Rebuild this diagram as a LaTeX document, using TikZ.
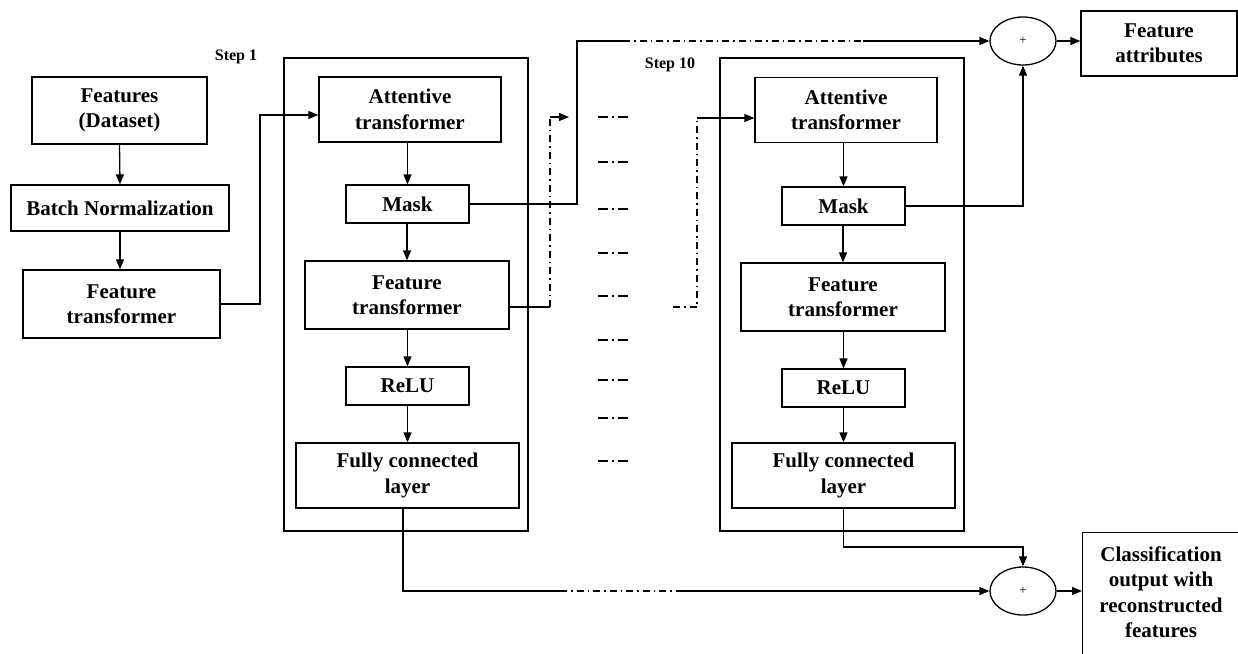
\documentclass[tikz,border=0pt]{standalone}
\usepackage{fontspec}
\setmainfont{Liberation Serif}
\usetikzlibrary{arrows.meta,shapes.geometric,calc}
\begin{document}
\begin{tikzpicture}[x=1pt,y=-1pt,
  box/.style={draw, line width=1.3pt, align=center, font=\fontsize{21}{25.5}\selectfont\bfseries, inner sep=0pt},
  boxtext/.style={align=center, font=\fontsize{21}{25.5}\selectfont\bfseries, inner sep=0pt},
  frame/.style={draw, line width=1.3pt, inner sep=0pt},
  conn/.style={line width=1.3pt},
  arr/.style={conn, -{Triangle[length=10pt,width=8pt]}},
  dd/.style={conn, dash pattern=on 7pt off 4pt on 1.5pt off 4pt},
  ddshort/.style={conn, dash pattern=on 10pt off 4pt on 2pt off 4pt},
  sum/.style={draw, ellipse, line width=1.3pt, minimum width=66pt, minimum height=48pt, inner sep=0pt, font=\fontsize{13}{15}\selectfont},
  steplbl/.style={font=\fontsize{16}{19}\selectfont\bfseries, inner sep=0pt}
]
\useasboundingbox (0,0) rectangle (1238,653);
\clip (0,0) rectangle (1238,653);

% left input chain
\node[box, minimum width=175pt, minimum height=67pt] (fd) at (119.5,110.5) {Features\\(Dataset)};
\node[box, minimum width=218pt, minimum height=46pt] (bn) at (120,208) {Batch Normalization};
\node[box, minimum width=197pt, minimum height=68pt] (ft0) at (121.5,304) {Feature\\transformer};

% step frames
\node[frame, minimum width=244pt, minimum height=473pt] (s1) at (406,294.5) {};
\node[frame, minimum width=244pt, minimum height=473pt] (s2) at (842,294.5) {};
\node[steplbl] (st1) at (236,57) {Step 1};
\node[steplbl] (st10) at (670,65) {Step 10};

% column 1
\node[box, minimum width=182pt, minimum height=65pt] (at1) at (410,109.5) {Attentive\\transformer};
\node[box, minimum width=123pt, minimum height=38pt] (mask1) at (407.5,204) {Mask};
\node[box, minimum width=204pt, minimum height=68pt] (ftr1) at (407,295) {Feature\\transformer};
\node[box, minimum width=123pt, minimum height=38pt] (relu1) at (407.5,386) {ReLU};
\node[box, minimum width=223pt, minimum height=65pt] (fc1) at (407.5,475.5) {Fully connected\\layer};

% column 2
\node[box, minimum width=182pt, minimum height=65pt] (at2) at (846,110) {Attentive\\transformer};
\node[box, minimum width=123pt, minimum height=38pt] (mask2) at (843.5,206) {Mask};
\node[box, minimum width=204pt, minimum height=68pt] (ftr2) at (843,297) {Feature\\transformer};
\node[box, minimum width=123pt, minimum height=38pt] (relu2) at (843.5,388) {ReLU};
\node[box, minimum width=223pt, minimum height=65pt] (fc2) at (843.5,475.5) {Fully connected\\layer};

% sums and outputs
\node[sum] (plus1) at (1023,41) {+};
\node[sum] (plus2) at (1023,591) {+};
\node[box, minimum width=156pt, minimum height=65pt] (fa) at (1159,43.5) {Feature\\attributes};
\node[frame, minimum width=175pt, minimum height=140pt, anchor=north west] (cls) at (1082,532) {};
\node[boxtext] (clst) at (1161,592) {Classification\\output with\\reconstructed\\features};

% input chain arrows
\draw[arr] (fd.south) -- (bn.north);
\draw[arr] (bn.south) -- (ft0.north -| bn.south);
\coordinate (j1) at (260,115);
\draw[arr] (ft0.east) -| (j1) -- (j1 -| at1.west);

% column arrows
\foreach \a/\b in {at1/mask1,mask1/ftr1,ftr1/relu1,relu1/fc1,at2/mask2,mask2/ftr2,ftr2/relu2,relu2/fc2}
  \draw[arr] (\a.south -| \b.north) -- (\b.north);

% mask1 to top sum
\coordinate (t1) at (577,41);
\coordinate (t2) at (623,41);
\coordinate (t3) at (863,41);
\draw[conn] (mask1.east) -| (t1) -- (t2);
\draw[dd] (t2) -- (t3);
\draw[arr] (t3) -- (plus1.west);
\draw[arr] (plus1.east) -- (plus1.east -| fa.west);
\draw[arr] (mask2.east) -| (plus1.south);

% feature transformer 1 onward
\coordinate (f1) at (550,307);
\coordinate (f2) at (550,117);
\coordinate (f3) at (569,117);
\draw[conn] (ftr1.east |- f1) -- (f1);
\draw[dd] (f1) -- (f2);
\draw[arr] (f2) -- (f3);

% dots between steps
\foreach \y [count=\i] in {117,162,209,253,296,340,380,418,461}{
  \coordinate (da\i) at (598,\y);
  \coordinate (db\i) at (630,\y);
  \draw[ddshort] (da\i) -- (db\i);
}

% into step 10
\coordinate (g1) at (673,307);
\coordinate (g2) at (697,307);
\coordinate (g3) at (697,118);
\draw[dd] (g1) -- (g2) -- (g3);
\draw[arr] (g3) -- (g3 -| at2.west);

% bottom outputs
\coordinate (b1) at (403,591);
\coordinate (b2) at (560,591);
\coordinate (b3) at (680,591);
\draw[conn] (fc1.south -| b1) -- (b1) -- (b2);
\draw[dd] (b2) -- (b3);
\draw[arr] (b3) -- (plus2.west);
\coordinate (c1) at (843,547);
\draw[arr] (fc2.south) -- (fc2.south |- c1) -| (plus2.north);
\draw[arr] (plus2.east) -- (plus2.east -| cls.west);
\end{tikzpicture}
\end{document}
